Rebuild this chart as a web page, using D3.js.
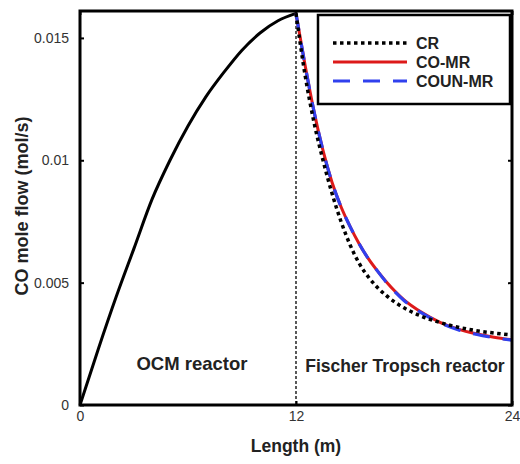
<!DOCTYPE html>
<html>
<head>
<meta charset="utf-8">
<script src="https://cdn.jsdelivr.net/npm/d3@7"></script>
<style>
  html, body { margin: 0; padding: 0; background: #fff; }
  svg { display: block; font-family: "Liberation Sans", Arial, sans-serif; }
</style>
</head>
<body>
<svg id="chart" width="520" height="464"></svg>
<script>
// Reactor length (m) and CO molar flow (mol/s)
const ocmLength = [0, 1, 2, 3, 4, 5, 6, 7, 8, 9, 10, 11, 12];
const ocmFlow   = [0, 0.00225, 0.0044, 0.0064, 0.0084, 0.0100, 0.0114, 0.0126, 0.0136, 0.0145, 0.0152, 0.0157, 0.0160];

const ftLength   = [12, 12.5, 13, 13.5, 14, 14.5, 15, 15.5, 16, 16.5, 17, 17.5, 18, 19, 20, 21, 22, 23, 24];
const crFlow     = [0.0160, 0.0135, 0.01155, 0.0100, 0.00865, 0.0075, 0.00655, 0.0058, 0.00525, 0.00482, 0.00448, 0.0042, 0.00397, 0.00362, 0.00337, 0.00318, 0.00304, 0.00294, 0.00286];
const coMrFlow   = [0.0160, 0.0139, 0.0120, 0.0104, 0.0091, 0.0081, 0.0073, 0.0066, 0.0060, 0.0055, 0.00505, 0.00465, 0.0043, 0.00378, 0.00338, 0.00310, 0.00291, 0.00277, 0.00266];
const counMrFlow = [0.0160, 0.0139, 0.0120, 0.0104, 0.0091, 0.0081, 0.0073, 0.0066, 0.0060, 0.0055, 0.00503, 0.00462, 0.00427, 0.00375, 0.00336, 0.00308, 0.00289, 0.00275, 0.00265];

const xTicks = [0, 12, 24];
const yTicks = [0, 0.005, 0.01, 0.015];
const yTickLabels = ["0", "0.005", "0.01", "0.015"];

const legendNames = ["CR", "CO-MR", "COUN-MR"];

const svg = d3.select("#chart");
const plotLeft = 80, plotRight = 512, plotTop = 11, plotBottom = 405;

const x = d3.scaleLinear().domain([0, 24]).range([plotLeft, plotRight]);
const y = d3.scaleLinear().domain([0, 0.0161]).range([plotBottom, plotTop]);

const line = d3.line().x(d => x(d[0])).y(d => y(d[1])).curve(d3.curveMonotoneX);

// Reactor boundary
svg.append("line")
  .attr("x1", x(12)).attr("x2", x(12))
  .attr("y1", plotTop).attr("y2", plotBottom)
  .attr("stroke", "#000").attr("stroke-width", 1.3)
  .attr("stroke-dasharray", "3,2");

// Region labels
svg.append("text").attr("x", 192).attr("y", 370)
  .attr("text-anchor", "middle").attr("font-weight", "bold").attr("font-size", 18.5)
  .attr("fill", "#222").text("OCM reactor");
svg.append("text").attr("x", 405).attr("y", 372)
  .attr("text-anchor", "middle").attr("font-weight", "bold").attr("font-size", 17.5)
  .attr("fill", "#222").text("Fischer Tropsch reactor");

// OCM reactor profile
svg.append("path")
  .datum(ocmLength.map((l, i) => [l, ocmFlow[i]]))
  .attr("d", line).attr("fill", "none")
  .attr("stroke", "#000").attr("stroke-width", 3);

// Fischer Tropsch reactor profiles
const series = [
  { name: "CO-MR",   values: coMrFlow,   color: "#dd1a1a", dash: null,      width: 3 },
  { name: "COUN-MR", values: counMrFlow, color: "#3040ee", dash: "17,13",   width: 3.2 },
  { name: "CR",      values: crFlow,     color: "#000",    dash: "3.5,3.5", width: 3.5 }
];
series.forEach(s => {
  svg.append("path")
    .datum(ftLength.map((l, i) => [l, s.values[i]]))
    .attr("d", line).attr("fill", "none")
    .attr("stroke", s.color).attr("stroke-width", s.width)
    .attr("stroke-dasharray", s.dash);
});

// Axes with inward ticks
const xAxisB = d3.axisBottom(x).tickValues(xTicks).tickSize(-4).tickPadding(6).tickFormat(d3.format("d"));
const xAxisT = d3.axisTop(x).tickValues(xTicks).tickSize(-4).tickFormat("");
const yAxisL = d3.axisLeft(y).tickValues(yTicks).tickSize(-4).tickPadding(11).tickFormat((d, i) => yTickLabels[i]);
const yAxisR = d3.axisRight(y).tickValues(yTicks).tickSize(-4).tickFormat("");

function styleAxis(g) {
  g.select(".domain").remove();
  g.selectAll(".tick line").attr("stroke", "#000").attr("stroke-width", 2);
  g.selectAll(".tick text").attr("fill", "#333").attr("font-size", 14)
    .attr("font-family", "'Liberation Sans', Arial, sans-serif");
}
svg.append("g").attr("transform", `translate(0,${plotBottom})`).call(xAxisB).call(styleAxis);
svg.append("g").attr("transform", `translate(0,${plotTop})`).call(xAxisT).call(styleAxis);
svg.append("g").attr("transform", `translate(${plotLeft},0)`).call(yAxisL).call(styleAxis);
svg.append("g").attr("transform", `translate(${plotRight},0)`).call(yAxisR).call(styleAxis);

// Frame
svg.append("rect")
  .attr("x", plotLeft).attr("y", plotTop)
  .attr("width", plotRight - plotLeft).attr("height", plotBottom - plotTop)
  .attr("fill", "none").attr("stroke", "#000").attr("stroke-width", 3);

// Axis titles
svg.append("text").attr("x", x(12)).attr("y", 452)
  .attr("text-anchor", "middle").attr("font-weight", "bold").attr("font-size", 17.5)
  .attr("fill", "#222").text("Length (m)");
svg.append("text")
  .attr("transform", "translate(28,206) rotate(-90)")
  .attr("text-anchor", "middle").attr("font-weight", "bold").attr("font-size", 18)
  .attr("fill", "#222").text("CO mole flow (mol/s)");

// Legend
const lg = svg.append("g");
lg.append("rect").attr("x", 318).attr("y", 15).attr("width", 192).attr("height", 89)
  .attr("fill", "#fff").attr("stroke", "#000").attr("stroke-width", 2.5);
const legendStyle = {
  "CR":      { color: "#000",    dash: "3.5,3.5", width: 3.5 },
  "CO-MR":   { color: "#dd1a1a", dash: null,      width: 3 },
  "COUN-MR": { color: "#3040ee", dash: "17,13",   width: 3.2 }
};
legendNames.forEach((n, i) => {
  const yy = 43 + i * 19;
  const st = legendStyle[n];
  lg.append("line").attr("x1", 333).attr("x2", 407).attr("y1", yy).attr("y2", yy)
    .attr("stroke", st.color).attr("stroke-width", st.width).attr("stroke-dasharray", st.dash);
  lg.append("text").attr("x", 416).attr("y", yy + 5.5)
    .attr("font-weight", "bold").attr("font-size", 16).attr("fill", "#222").text(n);
});
</script>
</body>
</html>
